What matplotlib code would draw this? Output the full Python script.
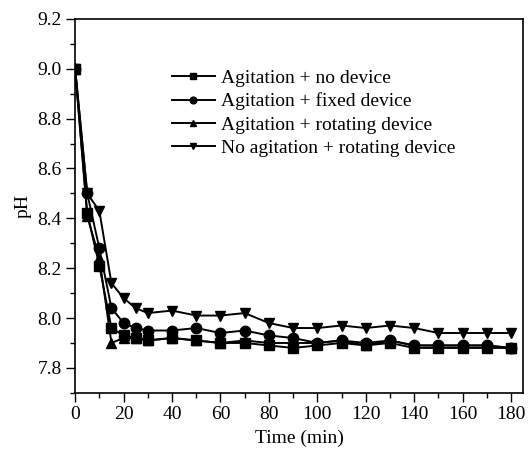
import numpy as np
import matplotlib.pyplot as plt
from matplotlib.ticker import MultipleLocator

plt.rcParams['font.family'] = ['Liberation Serif', 'DejaVu Serif']

time = [0, 5, 10, 15, 20, 25, 30, 40, 50, 60, 70, 80, 90, 100, 110, 120, 130, 140, 150, 160, 170, 180]
no_device = [9.0, 8.42, 8.21, 7.96, 7.93, 7.92, 7.91, 7.92, 7.91, 7.90, 7.90, 7.89, 7.88, 7.89,
             7.90, 7.89, 7.90, 7.88, 7.88, 7.88, 7.88, 7.88]
fixed_device = [9.0, 8.50, 8.28, 8.04, 7.98, 7.96, 7.95, 7.95, 7.96, 7.94, 7.95, 7.93, 7.92, 7.90,
                7.91, 7.90, 7.91, 7.89, 7.89, 7.89, 7.89, 7.88]
rotating_device = [9.0, 8.41, 8.24, 7.90, 7.92, 7.92, 7.91, 7.92, 7.91, 7.90, 7.91, 7.90, 7.90, 7.90,
                   7.91, 7.89, 7.91, 7.89, 7.89, 7.89, 7.89, 7.88]
no_agit_rotating = [9.0, 8.50, 8.43, 8.14, 8.08, 8.04, 8.02, 8.03, 8.01, 8.01, 8.02, 7.98, 7.96, 7.96,
                    7.97, 7.96, 7.97, 7.96, 7.94, 7.94, 7.94, 7.94]

labels = ['Agitation + no device', 'Agitation + fixed device',
          'Agitation + rotating device', 'No agitation + rotating device']
markers = ['s', 'o', '^', 'v']

fig = plt.figure(figsize=(5.29, 4.51), dpi=100)
ax = fig.add_axes([0.142, 0.129, 0.847, 0.829])

for ys, m, lab in zip([no_device, fixed_device, rotating_device, no_agit_rotating], markers, labels):
    ax.plot(time, ys, color='black', lw=1.4, marker=m, ms=7.5, label=lab)

ax.set_xlim(0, 185)
ax.set_ylim(7.7, 9.2)
ax.xaxis.set_major_locator(MultipleLocator(20))
ax.xaxis.set_minor_locator(MultipleLocator(10))
ax.yaxis.set_major_locator(MultipleLocator(0.2))
ax.yaxis.set_minor_locator(MultipleLocator(0.1))
ax.yaxis.set_major_formatter(plt.FormatStrFormatter('%.1f'))
ax.tick_params(which='major', direction='out', length=6.5, width=1, labelsize=14, pad=3)
ax.tick_params(which='minor', direction='out', length=3.5, width=1)
for s in ax.spines.values():
    s.set_linewidth(1.2)

ax.set_xlabel('Time (min)', fontsize=14, labelpad=5)
ax.set_ylabel('pH', fontsize=14, labelpad=4)

leg = ax.legend(loc='upper left', bbox_to_anchor=(0.216, 0.866), frameon=False, fontsize=14,
                handlelength=2.2, markerscale=0.65, labelspacing=0.3, handletextpad=0.3,
                borderpad=0, borderaxespad=0)

fig.savefig('out.png', dpi=100)
